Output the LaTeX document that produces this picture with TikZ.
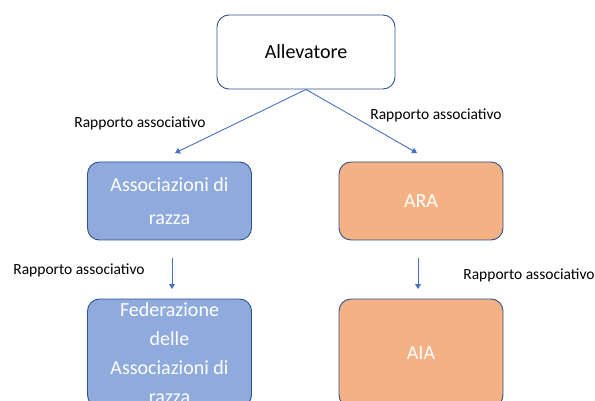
\documentclass[tikz,border=0pt]{standalone}
\usepackage{fontspec}
\setmainfont{Carlito}
\usetikzlibrary{arrows.meta}
\definecolor{edgecol}{HTML}{4472C4}
\definecolor{boxline}{HTML}{2F528F}
\definecolor{bluefill}{HTML}{8FAADC}
\definecolor{orangefill}{HTML}{F4B183}
\begin{document}
\begin{tikzpicture}[x=1pt,y=-1pt,
  basebox/.style={draw=boxline, line width=0.9pt, rounded corners=12pt, align=center, inner sep=0pt},
  topbox/.style={basebox, fill=white, minimum width=178pt, minimum height=74pt, font=\fontsize{20}{24}\selectfont, text=black},
  bluebox/.style={basebox, fill=bluefill, minimum width=164pt, minimum height=78pt, text=white},
  orangebox/.style={basebox, fill=orangefill, minimum width=164pt, minimum height=78pt, text=white, font=\fontsize{20}{24}\selectfont},
  lbl/.style={font=\fontsize{15.5}{18}\selectfont, text=black, inner sep=0pt},
  arr/.style={draw=edgecol, line width=0.9pt, -{Triangle[width=6pt,length=5pt]}}]
\useasboundingbox (0,0) rectangle (595,401);
\begin{scope}
\clip (0,0) rectangle (595,401);
\node[topbox] (all) at (306,52) {Allevatore};
\node[bluebox, font=\fontsize{20}{33}\selectfont] (ass) at (169.5,201) {Associazioni di\\razza};
\node[orangebox] (ara) at (421,201) {ARA};
\node[bluebox, minimum height=108pt, font=\fontsize{20}{29}\selectfont] (fed) at (169.5,353) {Federazione\\delle\\Associazioni di\\razza};
\node[orangebox, minimum height=108pt] (aia) at (421,353) {AIA};
\end{scope}
\coordinate (t1) at (175,153);
\coordinate (t2) at (417,153);
\coordinate (s3) at (172,258);
\coordinate (t3) at (172,289);
\coordinate (s4) at (418,258);
\coordinate (t4) at (418,289);
\draw[arr] (all.south) -- (t1);
\draw[arr] (all.south) -- (t2);
\draw[arr] (s3) -- (t3);
\draw[arr] (s4) -- (t4);
\node[lbl] (l1) at (140,123) {Rapporto associativo};
\node[lbl] (l2) at (436,115) {Rapporto associativo};
\node[lbl] (l3) at (79,270) {Rapporto associativo};
\node[lbl] (l4) at (529,275) {Rapporto associativo};
\end{tikzpicture}
\end{document}
